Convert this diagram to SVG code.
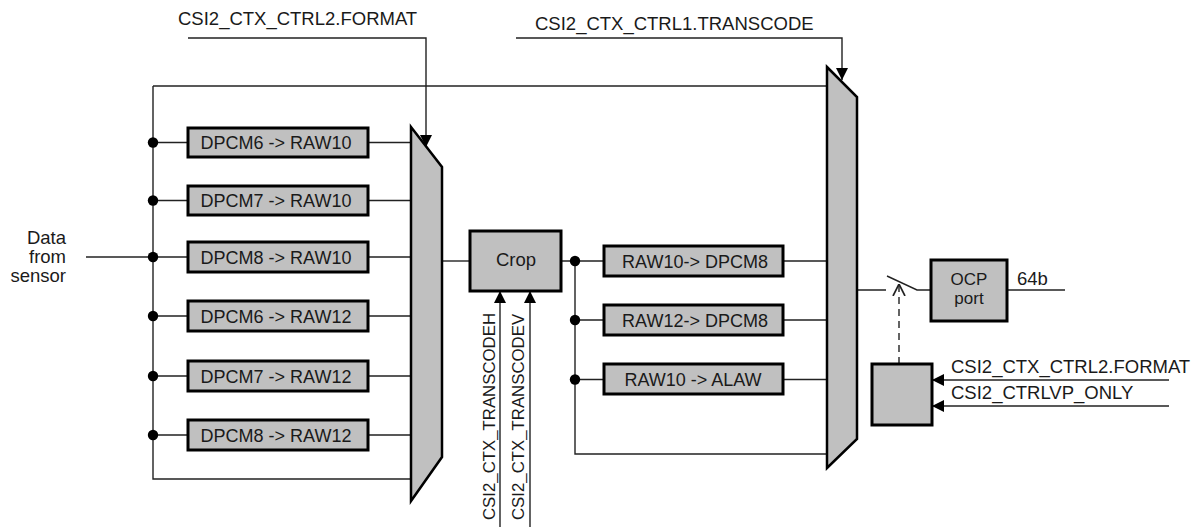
<svg xmlns="http://www.w3.org/2000/svg" width="1194" height="527" viewBox="0 0 1194 527">
<defs>
<style>
text{font-family:"Liberation Sans",Arial,sans-serif;fill:#1a1a1a;font-size:18.5px}
.bt{font-size:18px;text-anchor:middle}
.vt{font-size:16.8px}
.sm{font-size:17px;text-anchor:middle}
.box{fill:#c0c0c0;stroke:#000;stroke-width:3}
.mux{fill:#c0c0c0;stroke:#000;stroke-width:2.5;stroke-linejoin:miter}
.w{fill:none;stroke:#222;stroke-width:1.4}
.dot{fill:#000}
.c{text-anchor:middle}
</style>
<marker id="ah" viewBox="0 0 10 10" refX="10" refY="5" markerWidth="12" markerHeight="12" markerUnits="userSpaceOnUse" orient="auto"><path d="M0,0 L10,5 L0,10 z" fill="#000"/></marker>
<marker id="oa" viewBox="0 0 10 10" refX="10" refY="5" markerWidth="12" markerHeight="16" markerUnits="userSpaceOnUse" orient="auto"><path d="M0,0 L10,5 L0,10" fill="none" stroke="#222" stroke-width="1.4"/></marker>
</defs>
<rect width="1194" height="527" fill="#fff"/>

<g id="connectors">
<path class="w" d="M86,257 H153"/>
<path class="w" d="M153,86 H827"/>
<path class="w" d="M153,86 V479 H411"/>
<path class="w" d="M153,142.5 H188 M368,142.5 H411"/>
<path class="w" d="M153,200.5 H188 M368,200.5 H411"/>
<path class="w" d="M153,257 H188 M368,257 H411"/>
<path class="w" d="M153,316 H188 M368,316 H411"/>
<path class="w" d="M153,376 H188 M368,376 H411"/>
<path class="w" d="M153,435 H188 M368,435 H411"/>
<path class="w" d="M188,38 H426 V147" marker-end="url(#ah)"/>
<path class="w" d="M516,38 H842 V80" marker-end="url(#ah)"/>
<path class="w" d="M442,261 H470"/>
<path class="w" d="M500,527 V291" marker-end="url(#ah)"/>
<path class="w" d="M530,527 V291" marker-end="url(#ah)"/>
<path class="w" d="M561,261 H604 M783,261 H827"/>
<path class="w" d="M575,261 V454 H827"/>
<path class="w" d="M575,320 H604 M783,320 H827"/>
<path class="w" d="M575,379.5 H604 M783,379.5 H827"/>
<path class="w" d="M857,290 H886 M887,276 L917,290 H931"/>
<path class="w" d="M1007,290 H1065"/>
<path class="w" d="M899,364 V284" stroke-dasharray="7,5" marker-end="url(#oa)"/>
<path class="w" d="M1169,380 H932" marker-end="url(#ah)"/>
<path class="w" d="M1169,406 H932" marker-end="url(#ah)"/>
<circle class="dot" cx="153" cy="142.5" r="5.2"/>
<circle class="dot" cx="153" cy="200.5" r="5.2"/>
<circle class="dot" cx="153" cy="257" r="5.2"/>
<circle class="dot" cx="153" cy="316" r="5.2"/>
<circle class="dot" cx="153" cy="376" r="5.2"/>
<circle class="dot" cx="153" cy="435" r="5.2"/>
<circle class="dot" cx="575" cy="261" r="5.2"/>
<circle class="dot" cx="575" cy="320" r="5.2"/>
<circle class="dot" cx="575" cy="379.5" r="5.2"/>
</g>

<g id="label-input">
<text x="66" y="244" text-anchor="end">Data</text>
<text x="66" y="263" text-anchor="end">from</text>
<text x="66" y="282" text-anchor="end">sensor</text>
</g>
<g id="label-ctrl2"><text x="178" y="25">CSI2_CTX_CTRL2.FORMAT</text></g>
<g id="label-ctrl1"><text x="535" y="30">CSI2_CTX_CTRL1.TRANSCODE</text></g>

<g id="dpcm6-raw10"><rect class="box" x="188" y="128" width="180" height="29"/><text class="bt" x="276" y="149">DPCM6 -&gt; RAW10</text></g>
<g id="dpcm7-raw10"><rect class="box" x="188" y="186" width="180" height="29"/><text class="bt" x="276" y="207">DPCM7 -&gt; RAW10</text></g>
<g id="dpcm8-raw10"><rect class="box" x="188" y="242" width="180" height="30"/><text class="bt" x="276" y="263.5">DPCM8 -&gt; RAW10</text></g>
<g id="dpcm6-raw12"><rect class="box" x="188" y="301" width="180" height="30"/><text class="bt" x="276" y="322.5">DPCM6 -&gt; RAW12</text></g>
<g id="dpcm7-raw12"><rect class="box" x="188" y="361" width="180" height="30"/><text class="bt" x="276" y="382.5">DPCM7 -&gt; RAW12</text></g>
<g id="dpcm8-raw12"><rect class="box" x="188" y="420" width="180" height="30"/><text class="bt" x="276" y="441.5">DPCM8 -&gt; RAW12</text></g>

<g id="mux1"><polygon class="mux" points="411,127 442,167 442,457 411,501"/></g>

<g id="crop"><rect class="box" x="470" y="231" width="91" height="60"/><text class="c" x="516" y="266">Crop</text></g>
<g id="label-transcodeh"><text class="vt" transform="translate(495,520) rotate(-90)">CSI2_CTX_TRANSCODEH</text></g>
<g id="label-transcodev"><text class="vt" transform="translate(524,520) rotate(-90)">CSI2_CTX_TRANSCODEV</text></g>

<g id="raw10-dpcm8"><rect class="box" x="604" y="246" width="179" height="30"/><text class="bt" x="695" y="267.5">RAW10-&gt; DPCM8</text></g>
<g id="raw12-dpcm8"><rect class="box" x="604" y="305" width="179" height="30"/><text class="bt" x="695" y="326.5">RAW12-&gt; DPCM8</text></g>
<g id="raw10-alaw"><rect class="box" x="604" y="364" width="179" height="30"/><text class="bt" x="693" y="386">RAW10 -&gt; ALAW</text></g>

<g id="mux2"><polygon class="mux" points="827,67 857,97 857,439 827,468"/></g>

<g id="ocp-port"><rect class="box" x="931" y="260" width="76" height="61"/><text class="sm" x="969" y="285">OCP</text><text class="sm" x="969" y="304">port</text></g>
<g id="label-64b"><text x="1017" y="285">64b</text></g>
<g id="ctrl-box"><rect class="box" x="872" y="364" width="60" height="61"/></g>
<g id="label-format2"><text x="951" y="373">CSI2_CTX_CTRL2.FORMAT</text></g>
<g id="label-vponly"><text x="951" y="399">CSI2_CTRLVP_ONLY</text></g>
</svg>
